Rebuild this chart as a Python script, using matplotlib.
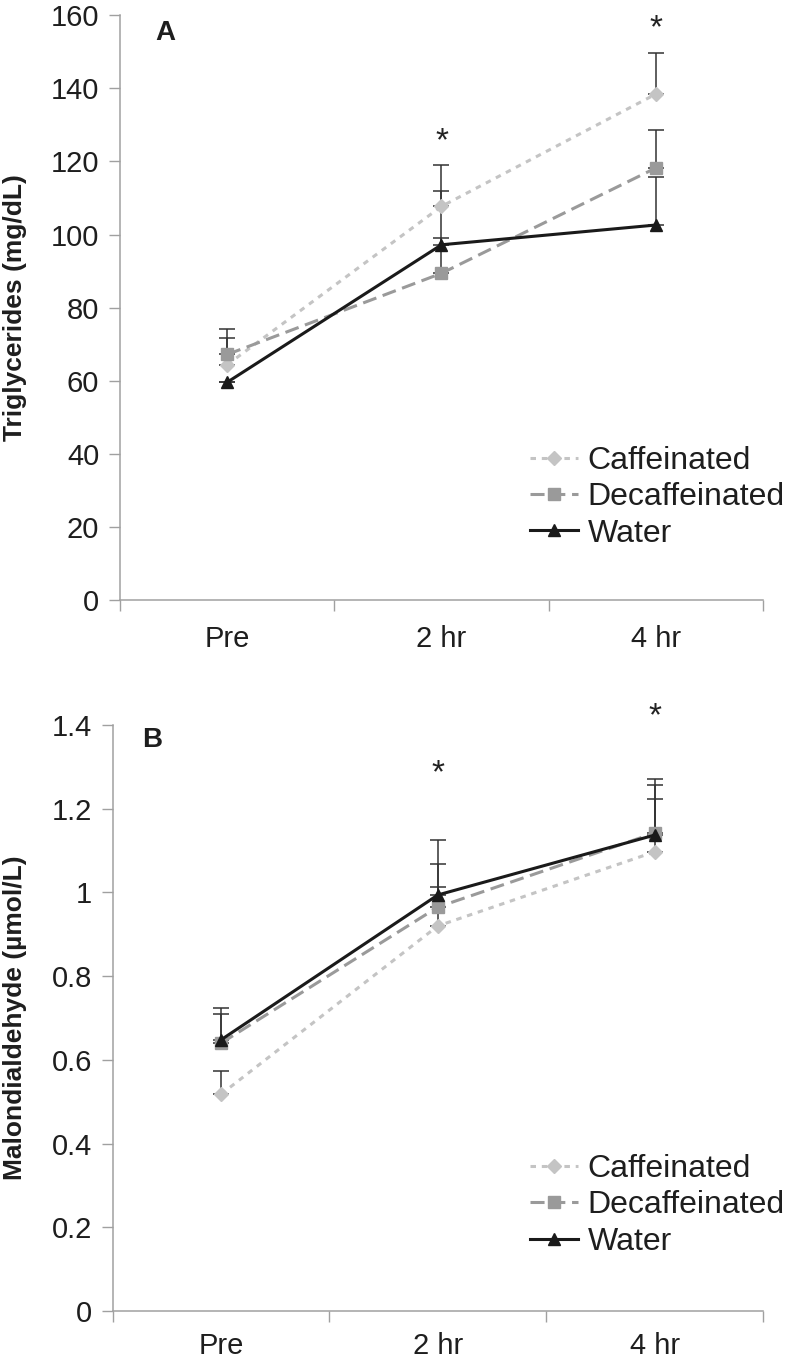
import matplotlib.pyplot as plt
import numpy as np

plt.rcParams['font.family'] = ['Liberation Sans', 'DejaVu Sans']

times = ['Pre', '2 hr', '4 hr']
groups = ['Caffeinated', 'Decaffeinated', 'Water']

# panel A - triglycerides (mg/dL)
tg_mean = {'Caffeinated': [64.4, 107.7, 138.4],
           'Decaffeinated': [67.2, 89.4, 118.2],
           'Water': [59.6, 97.2, 102.6]}
tg_err = {'Caffeinated': [7.4, 11.3, 11.2],
          'Decaffeinated': [7.1, 9.6, 10.4],
          'Water': [0.0, 14.8, 13.2]}
tg_star = [None, 125.5, 156.4]

# panel B - malondialdehyde (umol/L)
mda_mean = {'Caffeinated': [0.518, 0.920, 1.097],
            'Decaffeinated': [0.640, 0.965, 1.142],
            'Water': [0.648, 0.994, 1.137]}
mda_err = {'Caffeinated': [0.055, 0.093, 0.126],
           'Decaffeinated': [0.069, 0.103, 0.115],
           'Water': [0.076, 0.131, 0.134]}
mda_star = [None, 1.283, 1.42]

styles = {'Caffeinated': dict(color='#c4c4c4', marker='D', ms=7.5, dashes=(1.8, 1.9)),
          'Decaffeinated': dict(color='#9a9a9a', marker='s', ms=8.5, dashes=(4.6, 2.2)),
          'Water': dict(color='#1a1a1a', marker='^', ms=9, dashes=())}


def panel(ax, means, errs, stars, ylim, yticks, yticklabels, ylabel, letter, letter_xy,
          label_x, leg_xy, xpad):
    x = np.arange(len(times))
    for g in groups:
        ax.errorbar(x, means[g], yerr=[np.zeros(3), errs[g]], fmt='none',
                    ecolor='#333333', elinewidth=1.1, capsize=5.5, capthick=1.1, zorder=2)
    for i, g in enumerate(groups):
        st = styles[g]
        line, = ax.plot(x, means[g], color=st['color'], marker=st['marker'], ms=st['ms'],
                        lw=2.2, label=g, zorder=3 + i, mec=st['color'])
        if st['dashes']:
            line.set_dashes(st['dashes'])
    for xi, s in zip(x, stars):
        if s is not None:
            ax.text(xi, s, '*', ha='center', va='center', fontsize=24, color='#222222',
                    clip_on=False)
    ax.set_xlim(-0.5, 2.5)
    ax.set_ylim(*ylim)
    ax.set_yticks(yticks)
    ax.set_yticklabels(yticklabels, fontsize=21, color='#1e1e1e')
    ax.set_xticks([-0.5, 0.5, 1.5, 2.5])
    ax.set_xticklabels([])
    ax.set_xticks(x, minor=True)
    ax.set_xticklabels(times, minor=True, fontsize=21, color='#1e1e1e')
    ax.tick_params(axis='x', which='minor', length=0, pad=xpad)
    ax.tick_params(axis='x', which='major', length=8, width=1, color='#a0a0a0', direction='out')
    ax.tick_params(axis='y', length=8, width=1, color='#a0a0a0', direction='out', pad=7)
    for sp in ['top', 'right']:
        ax.spines[sp].set_visible(False)
    for sp in ['left', 'bottom']:
        ax.spines[sp].set_color('#a0a0a0')
        ax.spines[sp].set_linewidth(1.1)
    ax.set_ylabel(ylabel, fontsize=19, fontweight='bold', color='#1e1e1e')
    ax.yaxis.set_label_coords(label_x, 0.5)
    ax.text(letter_xy[0], letter_xy[1], letter, transform=ax.transAxes, fontsize=20,
            fontweight='bold', color='#1e1e1e', ha='center', va='center')
    ax.legend(loc='upper left', bbox_to_anchor=leg_xy, frameon=False, fontsize=23,
              handlelength=1.5, handletextpad=0.3, labelspacing=0.2, borderaxespad=0,
              borderpad=0, labelcolor='#1e1e1e')


fig = plt.figure(figsize=(7.86, 13.62), dpi=100)
axA = fig.add_axes([0.1527, 0.5593, 0.818, 0.4296])
axB = fig.add_axes([0.1434, 0.0374, 0.8273, 0.4303])

panel(axA, tg_mean, tg_err, tg_star, (0, 160), np.arange(0, 161, 20),
      [str(v) for v in range(0, 161, 20)], 'Triglycerides (mg/dL)', 'A', (0.07, 0.97),
      -0.145, (0.638, 0.264), 18)
panel(axB, mda_mean, mda_err, mda_star, (0, 1.4), np.arange(0, 1.41, 0.2),
      ['0', '0.2', '0.4', '0.6', '0.8', '1', '1.2', '1.4'],
      'Malondialdehyde (\u00b5mol/L)', 'B', (0.06, 0.975), -0.132, (0.642, 0.268), 15)

fig.savefig('out.png', dpi=100)
